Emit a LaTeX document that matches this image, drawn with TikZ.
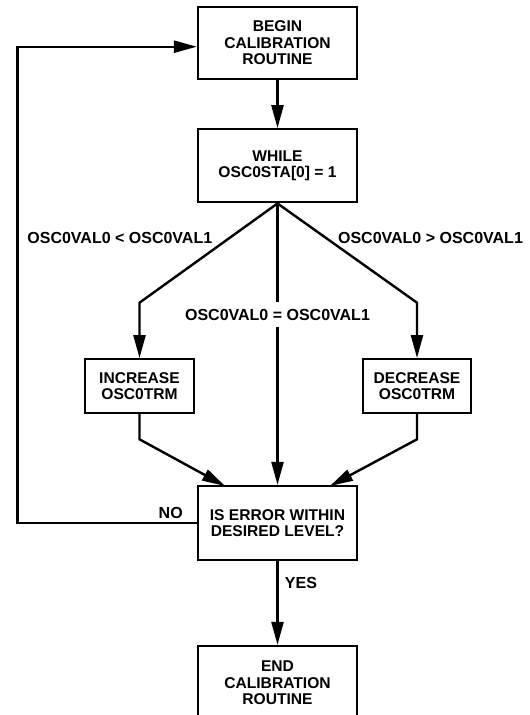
\documentclass[tikz,border=0pt]{standalone}
\usepackage{fontspec}
\setmainfont{Liberation Sans}
\usetikzlibrary{arrows.meta}
\tikzset{
  box/.style={draw, line width=2.3pt, align=center, inner sep=0pt,
    font=\fontsize{15.6}{16.5}\selectfont\bfseries},
  lbl/.style={inner sep=0pt, font=\fontsize{16}{17}\selectfont\bfseries},
  conn/.style={line width=2.4pt},
  arr/.style={line width=2.4pt, -{Triangle[length=23pt,width=12pt]}}
}
\begin{document}
\begin{tikzpicture}[x=1pt,y=-1pt]
\useasboundingbox (0,0) rectangle (530,715);
\clip (0,0) rectangle (530,715);
\node[box, minimum width=159pt, minimum height=72.5pt] (begin) at (277.5,43) {BEGIN\\CALIBRATION\\ROUTINE};
\node[box, minimum width=159pt, minimum height=73pt] (while) at (277.5,165.8) {WHILE\\OSC0STA[0] = 1};
\node[box, minimum width=109.5pt, minimum height=53.6pt] (inc) at (139.5,386) {INCREASE\\OSC0TRM};
\node[box, minimum width=108.5pt, minimum height=53.6pt] (dec) at (417,386) {DECREASE\\OSC0TRM};
\node[box, minimum width=159pt, minimum height=74pt] (err) at (277.5,523) {IS ERROR WITHIN\\DESIRED LEVEL?};
\node[box, minimum width=159pt, minimum height=74pt] (end) at (277.5,683) {END\\CALIBRATION\\ROUTINE};

\node[lbl] (lless) at (119.8,238) {OSC0VAL0 < OSC0VAL1};
\node[lbl] (lgreat) at (430.5,238) {OSC0VAL0 > OSC0VAL1};
\node[lbl, minimum height=25pt] (leq) at (277.5,314.5) {OSC0VAL0 = OSC0VAL1};
\node[lbl] (lno) at (170.7,513) {NO};
\node[lbl] (lyes) at (301,583) {YES};

\coordinate (lc1) at (139.5,302.7);
\coordinate (rc1) at (417,302.7);
\coordinate (lc2) at (139.5,439.3);
\coordinate (rc2) at (417,439.3);
\coordinate (ltip) at (225,486);
\coordinate (rtip) at (330,486);
\coordinate (fb1) at (17.3,523);
\coordinate (fb2) at (17.3,46.7);

\draw[arr] (begin.south) -- (while.north);
\draw[arr] (while.south) -- (lc1) -- (inc.north);
\draw[arr] (while.south) -- (rc1) -- (dec.north);
\draw[conn] (while.south) -- (leq.north);
\draw[arr] (leq.south) -- (err.north);
\draw[arr] (inc.south) -- (lc2) -- (ltip);
\draw[arr] (dec.south) -- (rc2) -- (rtip);
\draw[arr] (err.west) -- (fb1) -- (fb2) -- (fb2 -| begin.west);
\draw[arr] (err.south) -- (end.north);
\end{tikzpicture}
\end{document}
